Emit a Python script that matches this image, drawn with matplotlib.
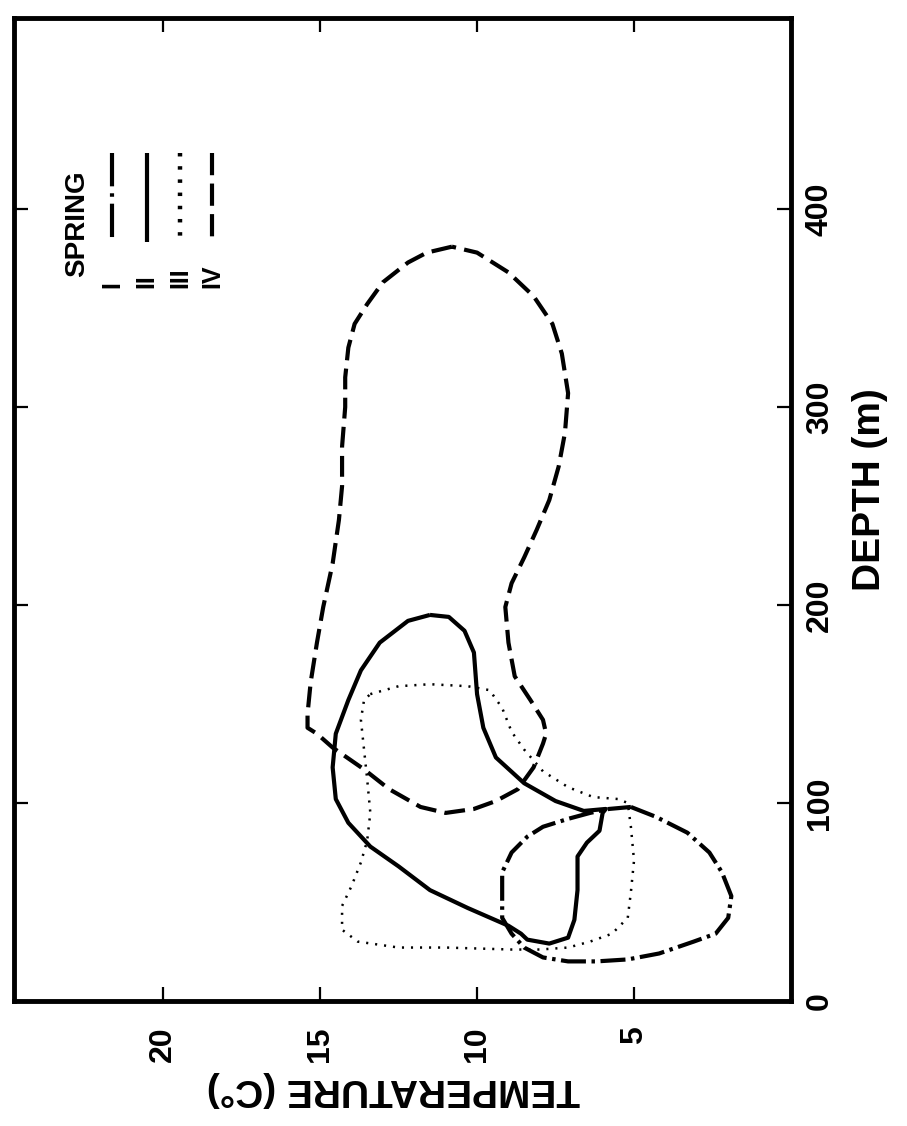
import numpy as np
import matplotlib
matplotlib.use("Agg")
import matplotlib.pyplot as plt

plt.rcParams['font.family'] = ['Liberation Sans', 'DejaVu Sans']
plt.rcParams['font.weight'] = 'bold'
plt.rcParams['lines.scale_dashes'] = False

# temperature (C) / depth (m) envelopes, one closed loop per spring
spring1_temp = [5.1, 4.3, 3.3, 2.6, 2.2, 1.9, 2.0, 2.4, 3.1, 4.2, 5.2, 6.2, 7.1, 7.9, 8.5,
                8.9, 9.2, 9.2, 9.2, 8.9, 8.4, 7.9, 7.1, 6.4, 5.8]
spring1_depth = [98, 93, 85, 75, 65, 53, 42, 34, 30, 24, 21, 20, 20, 22, 27,
                 34, 42, 55, 65, 75, 83, 88, 92, 95, 97]

spring2_temp = [11.5, 12.2, 13.1, 13.7, 14.1, 14.5, 14.6, 14.5, 14.1, 13.4, 12.5, 11.5, 10.3,
                9.0, 8.6, 8.4, 7.7, 7.1, 6.9, 6.8, 6.8, 6.5, 6.1, 6.0, 5.9, 6.6, 7.5,
                8.5, 9.4, 9.8, 10.0, 10.1, 10.4, 10.9]
spring2_depth = [195, 192, 181, 167, 152, 135, 118, 102, 90, 78, 68, 56, 47,
                 38, 34, 31, 29, 32, 41, 56, 73, 80, 86, 95, 97, 96, 101,
                 110, 123, 138, 155, 176, 187, 194]

spring3_temp = [13.4, 12.5, 11.5, 10.3, 9.6, 9.2, 8.9, 8.5, 7.9, 7.1, 6.3, 5.5, 5.2, 5.1,
                5.0, 5.1, 5.2, 5.7, 6.4, 7.1, 8.0, 8.9, 11.0, 12.5, 13.8, 14.3, 14.3,
                14.0, 13.7, 13.5, 13.4, 13.5, 13.6, 13.7, 13.6]
spring3_depth = [155, 159, 160, 159, 157, 148, 136, 127, 116, 108, 103, 102, 100, 88,
                 71, 55, 42, 34, 30, 27, 26, 26, 27, 27, 30, 36, 48,
                 58, 70, 81, 95, 112, 127, 142, 152]

spring4_temp = [10.8, 11.6, 12.2, 13.0, 13.5, 13.9, 14.1, 14.2, 14.2, 14.3, 14.3, 14.4, 14.6,
                14.9, 15.1, 15.3, 15.4, 15.4, 15.1, 14.6, 13.6, 12.8, 11.8, 11.0, 10.1,
                9.4, 8.7, 8.2, 7.9, 7.8, 7.9, 8.3, 8.8, 9.0, 9.1, 8.9, 8.5, 8.1, 7.7,
                7.4, 7.2, 7.1, 7.3, 7.6, 8.2, 9.0, 10.0]
spring4_depth = [381, 378, 373, 363, 352, 342, 330, 315, 300, 280, 260, 243, 221,
                 199, 181, 161, 145, 138, 135, 128, 117, 107, 98, 95, 97,
                 101, 107, 118, 130, 135, 142, 152, 164, 181, 199, 211, 224, 238, 253,
                 270, 287, 307, 327, 342, 356, 368, 378]

temp_ticks = [5, 10, 15, 20]
depth_ticks = [0, 100, 200, 300, 400]
spring_names = ['I', 'II', 'III', 'IV']

styles = [
    dict(lw=3.0, dashes=(18, 4, 2.5, 4)),
    dict(lw=3.0, ls='-'),
    dict(lw=1.8, dashes=(1.5, 5)),
    dict(lw=3.0, dashes=(15, 6)),
]
legend_styles = [
    dict(lw=3.0, dashes=(24, 5, 2.5, 5)),
    dict(lw=3.0, ls='-'),
    dict(lw=3.2, dashes=(2.5, 7)),
    dict(lw=3.0, dashes=(16, 6)),
]

fig = plt.figure(figsize=(9.07, 11.26), dpi=100)
ax = fig.add_axes([14 / 907, 1 - 1001 / 1126, 777 / 907, 983 / 1126])

springs = [(spring1_temp, spring1_depth), (spring2_temp, spring2_depth),
           (spring3_temp, spring3_depth), (spring4_temp, spring4_depth)]
for (t, d), st in zip(springs, styles):
    t = np.append(t, t[0])  # close the loop
    d = np.append(d, d[0])
    ax.plot(t, d, color='black', solid_capstyle='butt', dash_capstyle='butt', **st)

ax.set_xlim(24.75, 0)
ax.set_ylim(0, 496.5)

ax.set_xticks(temp_ticks)
ax.set_xticklabels([str(v) for v in temp_ticks], rotation=90, fontsize=23, fontweight='bold')
ax.set_yticks(depth_ticks)
ax.set_yticklabels([str(v) for v in depth_ticks], rotation=90, va='center',
                   fontsize=23, fontweight='bold')
ax.tick_params(direction='in', length=10, width=1.6, top=True, bottom=True,
               left=True, right=True, labelleft=False, labelright=True)
ax.tick_params(axis='x', pad=18)
ax.tick_params(axis='y', pad=10)
for sp in ax.spines.values():
    sp.set_linewidth(3.5)

ax.text(1.102, 0.52, 'DEPTH (m)', transform=ax.transAxes, rotation=90,
        ha='center', va='center', fontsize=28, fontweight='bold')
ax.text(0.488, -0.090, 'TEMPERATURE (C°)', transform=ax.transAxes, rotation=180,
        ha='center', va='center', fontsize=28, fontweight='bold')

# legend, drawn rotated like the rest of the figure
ax.text(0.081, 0.791, 'SPRING', transform=ax.transAxes, rotation=90,
        ha='center', va='center', fontsize=20, fontweight='bold')
legend_x = [0.126, 0.171, 0.214, 0.255]
for fx, name, st in zip(legend_x, spring_names, legend_styles):
    ax.plot([fx, fx], [0.863, 0.772], transform=ax.transAxes, color='black',
            solid_capstyle='butt', dash_capstyle='butt', **st)
    ax.text(fx, 0.725, name, transform=ax.transAxes, rotation=90,
            ha='center', va='bottom', fontsize=18, fontweight='bold')

fig.savefig('out.png', dpi=100)
